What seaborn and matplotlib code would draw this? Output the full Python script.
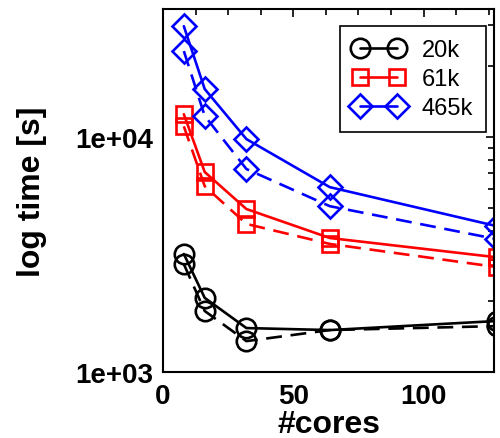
import matplotlib
matplotlib.use("Agg")
import matplotlib.pyplot as plt
import seaborn as sns
import numpy as np
from matplotlib.ticker import MultipleLocator, LogLocator, FuncFormatter, NullFormatter

sns.set_style("white")
plt.rcParams['font.family'] = ['Liberation Sans', 'DejaVu Sans']
plt.rcParams['text.color'] = 'black'
plt.rcParams['axes.labelcolor'] = 'black'

cores = [8, 16, 32, 64, 128]
t20k_solid = [3180, 2070, 1540, 1510, 1650]
t20k_dashed = [2880, 1820, 1355, 1510, 1570]
t61k_solid = [12500, 7100, 4940, 3720, 3080]
t61k_dashed = [11100, 6180, 4270, 3510, 2800]
t465k_solid = [29600, 16000, 9800, 6120, 4180]
t465k_dashed = [23200, 12300, 7310, 5080, 3680]
labels = ["20k", "61k", "465k"]

fig = plt.figure(figsize=(5.0, 4.39), dpi=100)
ax = fig.add_axes([0.326, 0.150, 0.662, 0.827])

series = [
    (t20k_solid, t20k_dashed, "black", "o", 14, labels[0]),
    (t61k_solid, t61k_dashed, "red", "s", 12, labels[1]),
    (t465k_solid, t465k_dashed, "blue", "D", 12, labels[2]),
]
for solid, dashed, color, mk, ms, lab in series:
    for vals, ls, l in ((solid, "-", lab), (dashed, (0, (6, 3.3)), None)):
        sns.lineplot(x=cores, y=vals, ax=ax, color=color, linestyle=ls, lw=1.9,
                     marker=mk, markersize=ms, markerfacecolor="none",
                     markeredgecolor=color, markeredgewidth=1.9,
                     label=l, legend=False)

ax.set_yscale("log")
ax.set_xlim(0, 127)
ax.set_ylim(1000, 35000)

ax.xaxis.set_major_locator(MultipleLocator(50))
ax.xaxis.set_minor_locator(MultipleLocator(12.5))
ax.yaxis.set_major_locator(LogLocator(base=10))
ax.yaxis.set_minor_locator(LogLocator(base=10, subs=np.arange(2, 10)))
ax.yaxis.set_major_formatter(FuncFormatter(lambda v, p: f"{v:.0e}"))
ax.yaxis.set_minor_formatter(NullFormatter())

ax.tick_params(which="both", direction="in", top=True, right=True, width=1.2,
               colors="black", labelcolor="black")
ax.tick_params(which="major", length=6, labelsize=20)
ax.tick_params(axis="y", which="major", pad=7)
ax.tick_params(axis="x", which="major", pad=8)
ax.tick_params(which="minor", length=4)
for lab in ax.get_xticklabels() + ax.get_yticklabels():
    lab.set_fontweight("bold")

for s in ax.spines.values():
    s.set_color("black")
    s.set_linewidth(1.5)

ax.set_xlabel("#cores", fontsize=23, fontweight="bold", labelpad=0, color="black")
ax.set_ylabel("log time [s]", fontsize=23, fontweight="bold", labelpad=20, color="black")

handles, labs = ax.get_legend_handles_labels()
leg = ax.legend(handles, labs, loc="upper right", bbox_to_anchor=(0.976, 0.953),
                borderaxespad=0,
                numpoints=2, fontsize=17, frameon=True, fancybox=False,
                edgecolor="black", framealpha=1, handlelength=2.15,
                borderpad=0.55, labelspacing=0.3, handletextpad=0.75)
leg.get_frame().set_linewidth(1.2)
for t in leg.get_texts():
    t.set_color("black")

fig.savefig("out.png", dpi=100)
